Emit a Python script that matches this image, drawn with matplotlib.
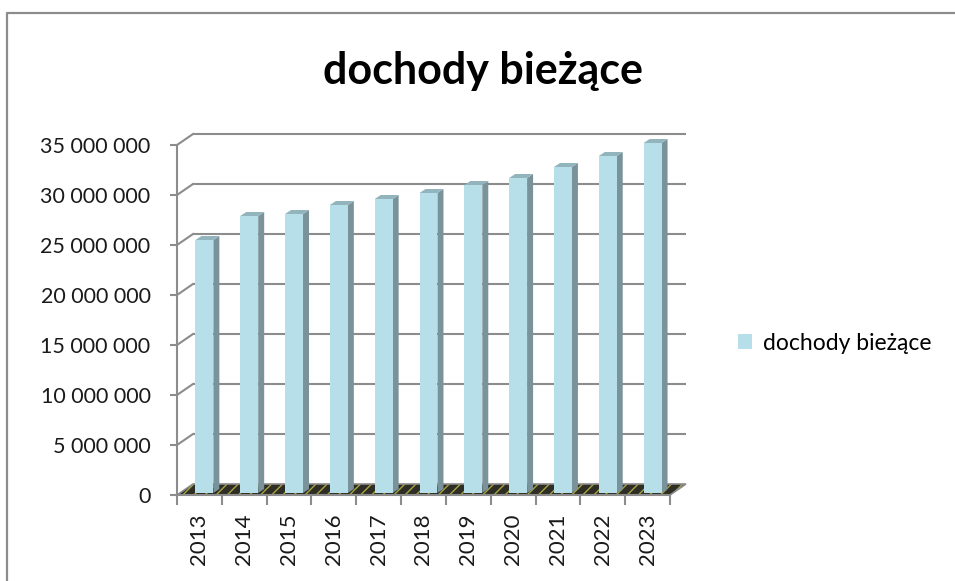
import numpy as np
import matplotlib
matplotlib.use('Agg')
import matplotlib.pyplot as plt
from matplotlib.patches import Polygon
from matplotlib.lines import Line2D

# dane: dochody bieżące (zł)
years = ['2013', '2014', '2015', '2016', '2017', '2018', '2019', '2020', '2021', '2022', '2023']
values = [25.3e6, 27.7e6, 27.9e6, 28.8e6, 29.4e6, 30.0e6, 30.8e6, 31.5e6, 32.6e6, 33.7e6, 35.0e6]
y_ticks = [0, 5e6, 10e6, 15e6, 20e6, 25e6, 30e6, 35e6]
series_name = 'dochody bieżące'

plt.rcParams['font.family'] = ['Lato', 'DejaVu Sans']

GRID = '#8c8c8c'
FRONT = '#b7dfe9'
SIDE = '#7a939a'
TOP = '#92b4bc'

W, H = 955, 581
fig = plt.figure(figsize=(W / 100, H / 100), dpi=100)

# ramka wykresu - widoczna tylko lewa i gorna krawedz
bx, by = 7 / W, (H - 13) / H
fig.lines.append(Line2D([bx, bx, 1.0], [0.0, by, by], transform=fig.transFigure, color=GRID, lw=1.6))

ax = fig.add_axes([177 / W, (H - 495) / H, 493 / W, 350 / H])
n = len(years)
ax.set_xlim(-0.5, n - 0.5)
ax.set_ylim(0, 35e6)
ax.patch.set_alpha(0)

# piksele -> jednostki danych
sx = ax.bbox.width / n
sy = ax.bbox.height / 35e6
back_dx, back_dy = 16 / sx, 11 / sy

# tylna sciana: linie siatki
for yv in y_ticks[1:]:
    ax.plot([-0.5 + back_dx, n - 0.5 + back_dx], [yv + back_dy] * 2, color=GRID, lw=1.5,
            clip_on=False, zorder=1, solid_capstyle='butt')
    ax.plot([-0.5, -0.5 + back_dx], [yv, yv + back_dy], color=GRID, lw=1.5, clip_on=False, zorder=1)

# podloga
floor = [(-0.5, 0), (n - 0.5, 0), (n - 0.5 + back_dx, back_dy), (-0.5 + back_dx, back_dy)]
ax.add_patch(Polygon(floor, closed=True, facecolor='#2e2e26', edgecolor='none', clip_on=False, zorder=2))
ax.add_patch(Polygon(floor, closed=True, facecolor='none', edgecolor='#a8a440', hatch='///', lw=0,
                     clip_on=False, zorder=2))
ax.add_patch(Polygon(floor, closed=True, facecolor='none', edgecolor=GRID, lw=1.2, clip_on=False, zorder=2))

# slupki 3D
bw = 0.4
shift_x, base = 5 / sx, 2 / sy
dx, dy = 6 / sx, 4 / sy
x = np.arange(n) + shift_x
bars = ax.bar(x, values, width=bw, bottom=base, color=FRONT, zorder=4, label=series_name, clip_on=False)
for xi, v in zip(x, values):
    xl, xr, t = xi - bw / 2, xi + bw / 2, base + v
    ax.add_patch(Polygon([(xr, base), (xr + dx, base + dy), (xr + dx, t + dy), (xr, t)],
                         facecolor=SIDE, edgecolor='none', zorder=3, clip_on=False))
    ax.add_patch(Polygon([(xl, t), (xr, t), (xr + dx, t + dy), (xl + dx, t + dy)],
                         facecolor=TOP, edgecolor='none', zorder=3, clip_on=False))

# osie
for s in ['top', 'right']:
    ax.spines[s].set_visible(False)
for s in ['left', 'bottom']:
    ax.spines[s].set_color(GRID)
    ax.spines[s].set_linewidth(1.5)
    ax.spines[s].set_zorder(5)

ax.set_yticks(y_ticks)
ax.set_yticklabels([f'{int(v):,}'.replace(',', ' ') for v in y_ticks])
ax.tick_params(axis='y', length=5, width=1.5, color=GRID, pad=14, labelsize=15.5, labelcolor='#1a1a1a')

ax.set_xticks(range(n))
ax.set_xticklabels(years, rotation=90)
ax.set_xticks(np.arange(-0.5, n, 1), minor=True)
ax.tick_params(axis='x', which='major', length=0, pad=13, labelsize=16, labelcolor='#1a1a1a')
ax.tick_params(axis='x', which='minor', length=7, width=1.5, color=GRID)

fig.text(483 / W, (H - 84) / H, series_name, ha='center', va='baseline', fontsize=31, fontweight='bold')

fig.legend(handles=[bars], labels=[series_name], loc='center left',
           bbox_to_anchor=(738 / W, (H - 343) / H), frameon=False, fontsize=16.5,
           handlelength=0.6, handleheight=0.6, handletextpad=0.5, borderpad=0, borderaxespad=0)

fig.savefig('out.png', dpi=100)
